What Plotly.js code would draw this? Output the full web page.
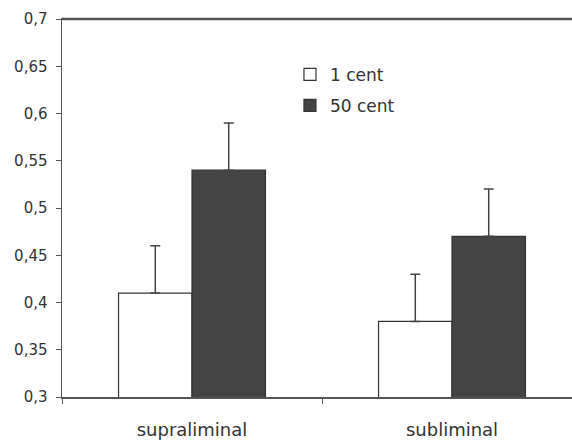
<!DOCTYPE html>
<html>
<head>
<meta charset="utf-8">
<script src="https://cdn.plot.ly/plotly-3.0.1.min.js"></script>
<style>html,body{margin:0;padding:0;background:#fff;}#chart{width:572px;height:440px;}</style>
</head>
<body>
<div id="chart"></div>
<script>
const categories = ["supraliminal", "subliminal"];
const seriesNames = ["1 cent", "50 cent"];
const cent1 = [0.41, 0.38];
const cent50 = [0.54, 0.47];
const err1 = [0.05, 0.05];
const err50 = [0.05, 0.05];

const errStyle = {color: "#444", thickness: 1.5, width: 5};
const traces = [
  {type: "bar", name: seriesNames[0], x: categories, y: cent1, legendgroup: "a",
   marker: {color: "#ffffff", line: {color: "#333", width: 1.2}},
   error_y: Object.assign({type: "data", array: err1, arrayminus: [0, 0], symmetric: false}, errStyle)},
  {type: "bar", name: seriesNames[1], x: categories, y: cent50, legendgroup: "b",
   marker: {color: "#444444", line: {color: "#333", width: 1.2}},
   error_y: Object.assign({type: "data", array: err50, arrayminus: [0, 0], symmetric: false}, errStyle)}
];

const layout = {
  width: 572, height: 440,
  margin: {l: 62, r: 0, t: 19, b: 43},
  paper_bgcolor: "#fff", plot_bgcolor: "#fff",
  separators: ",.",
  font: {family: "DejaVu Sans, Verdana, sans-serif", color: "#333", size: 15},
  barmode: "group", bargap: 0.435, bargroupgap: 0,
  showlegend: true,
  legend: {x: 0.447, y: 0.9, xanchor: "left", yanchor: "top", bgcolor: "rgba(0,0,0,0)",
           font: {size: 17, color: "#333"}, itemwidth: 30, traceorder: "grouped", tracegroupgap: 6},
  xaxis: {type: "category", range: [-0.5, 1.4615], showline: true, linecolor: "#555", linewidth: 1.5,
          mirror: true, ticks: "outside", tickson: "boundaries", ticklen: 5, tickcolor: "#555",
          ticklabelstandoff: 16, automargin: false,
          showgrid: false, zeroline: false, tickfont: {size: 18, color: "#333"}, fixedrange: true},
  yaxis: {range: [0.3, 0.7], dtick: 0.05, tick0: 0.3, showline: true, linecolor: "#555", linewidth: 1.5,
          ticks: "outside", ticklen: 5, tickcolor: "#555", showgrid: false, zeroline: false,
          ticklabelstandoff: 5, automargin: false,
          tickfont: {size: 15, color: "#333"}, fixedrange: true},
  shapes: [{type: "line", xref: "paper", yref: "paper", x0: 0, x1: 1, y0: 1, y1: 1,
            line: {color: "#555", width: 2.5}}]
};

Plotly.newPlot("chart", traces, layout, {displayModeBar: false, staticPlot: true});
</script>
</body>
</html>
